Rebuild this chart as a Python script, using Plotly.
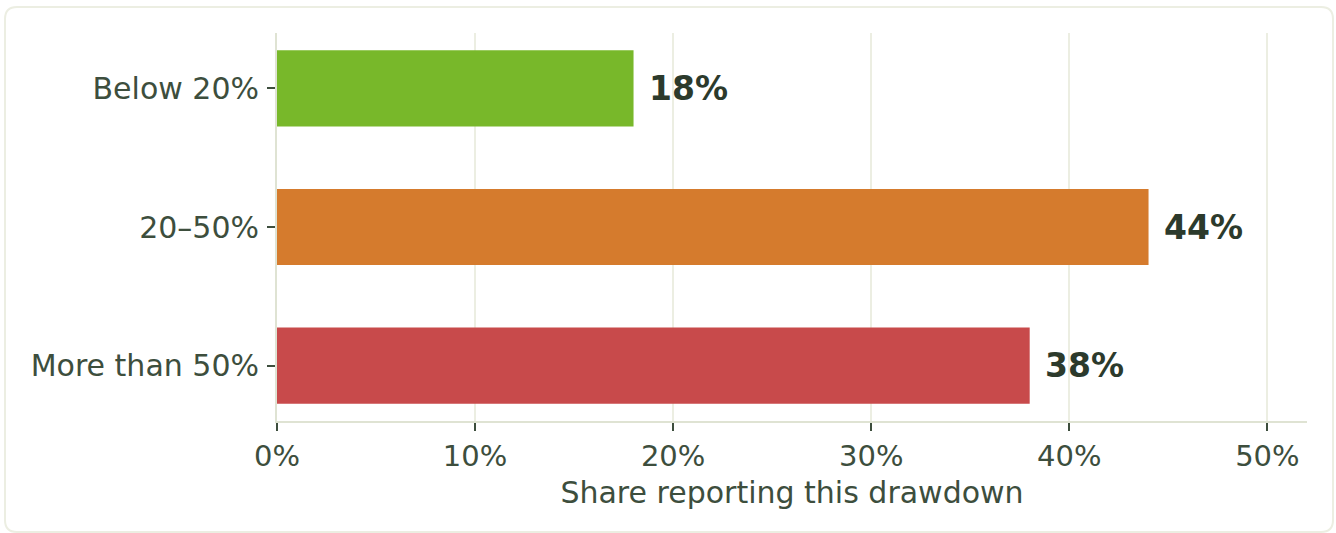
import plotly.graph_objects as go

categories = ["Below 20%", "20–50%", "More than 50%"]
shares = [18, 44, 38]
labels = ["18%", "44%", "38%"]
colors = ["#78b82a", "#d57b2d", "#c84a4b"]
x_ticks = [0, 10, 20, 30, 40, 50]
x_tick_labels = ["0%", "10%", "20%", "30%", "40%", "50%"]

W, H = 1336, 533
ML, MR, MT, MB = 277, 29, 33, 112
PW, PH = W - ML - MR, H - MT - MB

fig = go.Figure()
fig.add_trace(go.Bar(
    y=categories, x=shares, orientation="h",
    marker=dict(color=colors, line=dict(width=0)),
    width=0.55, hoverinfo="skip",
))

for c, v, t in zip(categories, shares, labels):
    fig.add_annotation(x=v, y=c, text=f"<b>{t}</b>", showarrow=False,
                       xanchor="left", yanchor="middle", xshift=13,
                       font=dict(family="DejaVu Sans", size=33, color="#2c3a2c"))

def px(X):
    return (X - ML) / PW

def py(Y):
    return (H - MB - Y) / PH

x0, x1, y0, y1, r = 5, 1333, 7, 532, 12
path = (f"M {px(x0+r)},{py(y0)} L {px(x1-r)},{py(y0)} "
        f"Q {px(x1)},{py(y0)} {px(x1)},{py(y0+r)} L {px(x1)},{py(y1-r)} "
        f"Q {px(x1)},{py(y1)} {px(x1-r)},{py(y1)} L {px(x0+r)},{py(y1)} "
        f"Q {px(x0)},{py(y1)} {px(x0)},{py(y1-r)} L {px(x0)},{py(y0+r)} "
        f"Q {px(x0)},{py(y0)} {px(x0+r)},{py(y0)} Z")
fig.add_shape(type="path", path=path, xref="paper", yref="paper",
              line=dict(color="#eceee2", width=2), layer="below")

fig.update_layout(
    width=W, height=H,
    margin=dict(l=ML, r=MR, t=MT, b=MB),
    paper_bgcolor="white", plot_bgcolor="white",
    showlegend=False,
    font=dict(family="DejaVu Sans", size=30, color="#3d4e3d"),
    xaxis=dict(
        range=[0, 52], tickvals=x_ticks, ticktext=x_tick_labels,
        showgrid=True, gridcolor="#eceee2", gridwidth=2,
        showline=True, linecolor="#dfe3d3", linewidth=2,
        ticks="outside", ticklen=8, tickwidth=2, tickcolor="#3d4e3d",
        zeroline=False,
        title=dict(text="Share reporting this drawdown", standoff=10,
                   font=dict(size=30, color="#3d4e3d")),
        tickfont=dict(size=29, color="#3d4e3d"),
    ),
    yaxis=dict(
        type="category", categoryorder="array", categoryarray=categories,
        range=[2.4, -0.4],
        showgrid=False, showline=True, linecolor="#dfe3d3", linewidth=2,
        ticks="outside", ticklen=8, tickwidth=2, tickcolor="#3d4e3d",
        zeroline=False, ticklabelstandoff=2,
        tickfont=dict(size=30, color="#3d4e3d"),
    ),
)

fig.write_html("out.html", config={"displayModeBar": False})
